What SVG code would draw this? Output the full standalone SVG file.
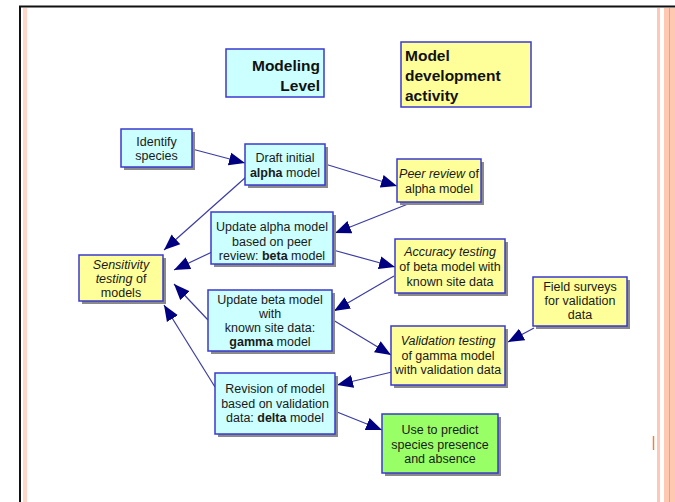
<svg xmlns="http://www.w3.org/2000/svg" width="675" height="502" viewBox="0 0 675 502">
  <style>
    text { font-family: "Liberation Sans", Arial, sans-serif; font-size: 12.5px; fill: #1a1a1a; }
    .c { text-anchor: middle; }
    .title { font-size: 15.5px; font-weight: bold; fill: #111; }
    .box { stroke: #3a3ad0; stroke-width: 1.5; }
    .blue { fill: #ccffff; }
    .yellow { fill: #ffff99; }
    .green { fill: #99ff66; }
    .shadow { fill: #8a8a8a; }
    .edge { stroke: #3c3ca0; stroke-width: 1.2; fill: none; marker-end: url(#arr); }
    .i { font-style: italic; }
    .b { font-weight: bold; }
  </style>
  <defs>
    <marker id="arr" markerUnits="userSpaceOnUse" markerWidth="18" markerHeight="14" refX="16" refY="7" orient="auto">
      <path d="M0,0.5 L16,7 L0,13.5 Z" fill="#000080"/>
    </marker>
  </defs>

  <!-- page frame -->
  <rect x="0" y="0" width="675" height="502" fill="#ffffff"/>
  <rect x="23" y="8" width="4" height="494" fill="#ffd6c8"/>
  <rect x="657" y="8" width="3" height="494" fill="#ffc8b4"/>
  <rect x="664" y="8" width="11" height="494" fill="#ffc8b0"/>
  <line x1="669.5" y1="8" x2="669.5" y2="502" stroke="#f0a080" stroke-width="1"/>
  <path d="M20,502 V6.5 H675" fill="none" stroke="#111" stroke-width="2"/>
  <line x1="653.5" y1="436" x2="653.5" y2="450" stroke="#f08040" stroke-width="1.5"/>

  <!-- headers -->
  <g id="modeling-level">
    <rect class="box blue" x="226" y="49" width="98" height="48" stroke-width="1.2"/>
    <text class="title" x="320" y="71" text-anchor="end">Modeling</text>
    <text class="title" x="320" y="91" text-anchor="end">Level</text>
  </g>
  <g id="model-development-activity">
    <rect class="box yellow" x="401" y="42" width="130" height="65" stroke-width="1.2"/>
    <text class="title" x="405" y="61">Model</text>
    <text class="title" x="405" y="81">development</text>
    <text class="title" x="405" y="101">activity</text>
  </g>

  <!-- connectors -->
  <g id="connectors">
    <line class="edge" x1="192" y1="149" x2="245" y2="163"/>
    <line class="edge" x1="325" y1="164" x2="397" y2="186"/>
    <line class="edge" x1="246" y1="177" x2="164" y2="250"/>
    <line class="edge" x1="408" y1="204" x2="335" y2="233"/>
    <line class="edge" x1="212" y1="252" x2="174" y2="270"/>
    <line class="edge" x1="333" y1="250" x2="395" y2="267"/>
    <line class="edge" x1="394" y1="276" x2="334" y2="311"/>
    <line class="edge" x1="208" y1="320" x2="174" y2="284"/>
    <line class="edge" x1="333" y1="320" x2="391" y2="355"/>
    <line class="edge" x1="534" y1="328" x2="508" y2="342"/>
    <line class="edge" x1="392" y1="372" x2="337" y2="385"/>
    <line class="edge" x1="215" y1="387" x2="164" y2="305"/>
    <line class="edge" x1="337" y1="412" x2="382" y2="430"/>
  </g>

  <!-- nodes -->
  <g id="identify-species">
    <rect class="shadow" x="124" y="132" width="71" height="38"/>
    <rect class="box blue" x="121" y="129" width="71" height="38"/>
    <text class="c" x="156.5" y="146">Identify</text>
    <text class="c" x="156.5" y="160">species</text>
  </g>
  <g id="draft-alpha">
    <rect class="shadow" x="248" y="147" width="80" height="41"/>
    <rect class="box blue" x="245" y="144" width="80" height="41"/>
    <text class="c" x="285" y="162">Draft initial</text>
    <text class="c" x="285" y="177"><tspan class="b">alpha</tspan> model</text>
  </g>
  <g id="peer-review">
    <rect class="shadow" x="400" y="162" width="84" height="43"/>
    <rect class="box yellow" x="397" y="159" width="84" height="43"/>
    <text class="c" x="439" y="178"><tspan class="i">Peer review</tspan> of</text>
    <text class="c" x="439" y="193">alpha model</text>
  </g>
  <g id="update-alpha">
    <rect class="shadow" x="214" y="215" width="122" height="52"/>
    <rect class="box blue" x="211" y="212" width="122" height="52"/>
    <text class="c" x="272" y="231">Update alpha model</text>
    <text class="c" x="272" y="246">based on peer</text>
    <text class="c" x="272" y="260">review: <tspan class="b">beta</tspan> model</text>
  </g>
  <g id="sensitivity-testing">
    <rect class="shadow" x="82" y="258" width="84" height="46"/>
    <rect class="box yellow" x="79" y="255" width="84" height="46"/>
    <text class="c" x="121" y="269"><tspan class="i">Sensitivity</tspan></text>
    <text class="c" x="121" y="283"><tspan class="i">testing</tspan> of</text>
    <text class="c" x="121" y="297">models</text>
  </g>
  <g id="accuracy-testing">
    <rect class="shadow" x="398" y="242" width="110" height="54"/>
    <rect class="box yellow" x="395" y="239" width="110" height="54"/>
    <text class="c" x="450" y="256"><tspan class="i">Accuracy testing</tspan></text>
    <text class="c" x="450" y="271">of beta model with</text>
    <text class="c" x="450" y="286">known site data</text>
  </g>
  <g id="update-beta">
    <rect class="shadow" x="211" y="293" width="124" height="61"/>
    <rect class="box blue" x="208" y="290" width="124" height="61"/>
    <text class="c" x="270" y="304">Update beta model</text>
    <text class="c" x="270" y="318">with</text>
    <text class="c" x="270" y="332">known site data:</text>
    <text class="c" x="270" y="346"><tspan class="b">gamma</tspan> model</text>
  </g>
  <g id="field-surveys">
    <rect class="shadow" x="536" y="280" width="94" height="49"/>
    <rect class="box yellow" x="533" y="277" width="94" height="49"/>
    <text class="c" x="580" y="291">Field surveys</text>
    <text class="c" x="580" y="305">for validation</text>
    <text class="c" x="580" y="319">data</text>
  </g>
  <g id="validation-testing">
    <rect class="shadow" x="394" y="329" width="114" height="59"/>
    <rect class="box yellow" x="391" y="326" width="114" height="59"/>
    <text class="c" x="448" y="345"><tspan class="i">Validation testing</tspan></text>
    <text class="c" x="448" y="360">of gamma model</text>
    <text class="c" x="448" y="374">with validation data</text>
  </g>
  <g id="revision-delta">
    <rect class="shadow" x="218" y="376" width="120" height="61"/>
    <rect class="box blue" x="215" y="373" width="120" height="61"/>
    <text class="c" x="275" y="393">Revision of model</text>
    <text class="c" x="275" y="408">based on validation</text>
    <text class="c" x="275" y="422">data: <tspan class="b">delta</tspan> model</text>
  </g>
  <g id="use-to-predict">
    <rect class="shadow" x="385" y="417" width="116" height="59"/>
    <rect class="box green" x="382" y="414" width="116" height="59"/>
    <text class="c" x="440" y="434">Use to predict</text>
    <text class="c" x="440" y="449">species presence</text>
    <text class="c" x="440" y="463">and absence</text>
  </g>
</svg>
